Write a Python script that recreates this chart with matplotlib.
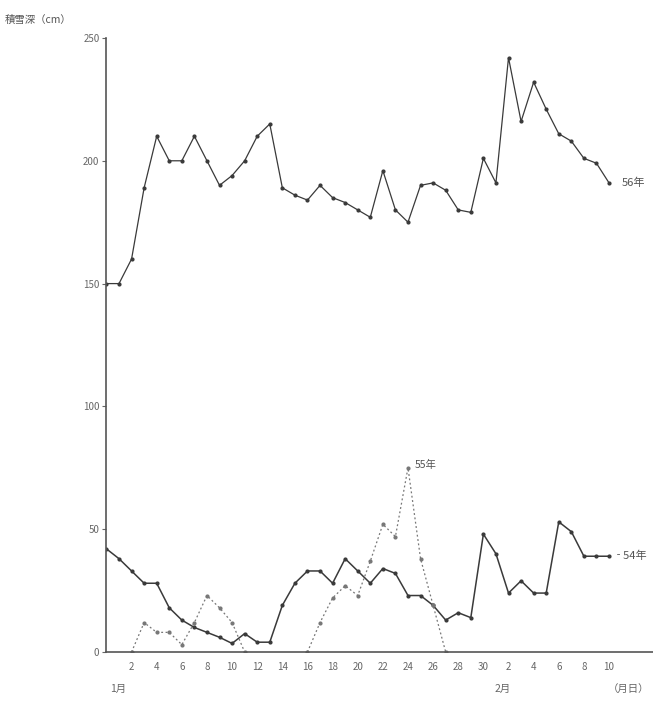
import numpy as np
import matplotlib
matplotlib.use("Agg")
import matplotlib.pyplot as plt

plt.rcParams['font.family'] = ['Noto Sans CJK JP', 'DejaVu Sans']

nan = np.nan
positions = list(range(41))
tick_pos = list(range(2, 41, 2))
tick_labels = ['2', '4', '6', '8', '10', '12', '14', '16', '18', '20', '22', '24',
               '26', '28', '30', '2', '4', '6', '8', '10']

s56 = [150, 150, 160, 189, 210, 200, 200, 210, 200, 190, 194, 200, 210, 215, 189,
       186, 184, 190, 185, 183, 180, 177, 196, 180, 175, 190, 191, 188, 180, 179,
       201, 191, 242, 216, 232, 221, 211, 208, 201, 199, 191]
s54 = [42, 38, 33, 28, 28, 18, 13, 10, 8, 6, 3.5, 7.5, 4, 4, 19, 28, 33, 33, 28,
       38, 33, 28, 34, 32, 23, 23, 19, 13, 16, 14, 48, 40, 24, 29, 24, 24, 53, 49,
       39, 39, 39]
s55 = [nan, nan, 0, 12, 8, 8, 3, 12, 23, 18, 12, 0, nan, nan, nan, nan, 0, 12, 22,
       27, 23, 37, 52, 47, 75, 38, 19, 0, nan, nan, nan, nan, nan, nan, nan, nan,
       nan, nan, nan, nan, nan]

fig = plt.figure(figsize=(6.53, 7.02), dpi=100)
ax = fig.add_axes([0.163, 0.0712, 0.837, 0.8747])

c = '#3a3a3a'
ax.plot(positions, s56, color=c, lw=0.9, marker='o', ms=2.0)
ax.plot(positions, s54, color=c, lw=1.1, marker='o', ms=2.0)
ax.plot(positions, s55, color='#777777', lw=0.9, ls=(0, (1.5, 2)), marker='o', ms=2.0)

ax.set_xlim(0, 43.5)
ax.set_ylim(0, 250)
for s in ['top', 'right']:
    ax.spines[s].set_visible(False)
for s in ['left', 'bottom']:
    ax.spines[s].set_color('#555555')
    ax.spines[s].set_linewidth(1.2)

ax.set_yticks([0, 50, 100, 150, 200, 250])
ax.set_yticklabels(['0', '50', '100', '150', '200', '250'])
ax.set_xticks(tick_pos)
ax.set_xticklabels(tick_labels)
ax.tick_params(axis='y', length=3, width=0.8, colors='#666666', labelsize=7, pad=2)
ax.tick_params(axis='x', length=0, colors='#666666', labelsize=7, pad=7)

ax.text(41.0, 191, '56年', fontsize=8, color='#555555', va='center', ha='left')
ax.text(40.3, 39, '‐54年', fontsize=8, color='#555555', va='center', ha='left')
ax.text(24.5, 76, '55年', fontsize=7.5, color='#555555', va='center', ha='left')

fig.text(0.008, 0.972, '積雪深（cm）', fontsize=7.5, color='#555555', ha='left', va='center')
fig.text(0.168, 0.019, '1月', fontsize=7.5, color='#666666', ha='left', va='center')
fig.text(0.757, 0.019, '2月', fontsize=7.5, color='#666666', ha='left', va='center')
fig.text(0.93, 0.019, '（月日）', fontsize=7.5, color='#666666', ha='left', va='center')

fig.savefig('out.png', dpi=100)
